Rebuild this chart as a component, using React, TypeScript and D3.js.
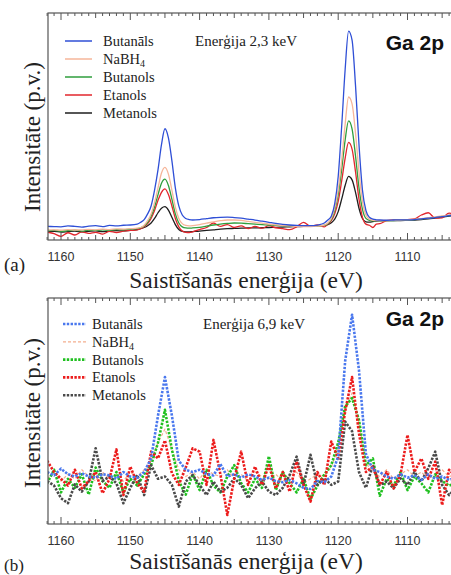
import React from 'react';
import * as d3 from 'd3';

const W = 451;
const H = 575;

const tickLabels = [1160, 1150, 1140, 1130, 1120, 1110];
const seriesNames = ['Butanāls', 'NaBH4', 'Butanols', 'Etanols', 'Metanols'];

// Panel (a) energies (eV)
const energiesA = [
  1162, 1161, 1160, 1159, 1158, 1157, 1156, 1155, 1154, 1153, 1152, 1151, 1150, 1149,
  1148.5, 1148, 1147.5, 1147, 1146.5, 1146, 1145.5, 1145, 1144.5, 1144, 1143.5, 1143, 1142.5, 1142, 1141.5,
  1141, 1140, 1139, 1138, 1137, 1136, 1135, 1134, 1133, 1132, 1131, 1130, 1129, 1128, 1127, 1126, 1125, 1124, 1123, 1122,
  1121.5, 1121, 1120.5, 1120, 1119.5, 1119, 1118.5, 1118, 1117.5, 1117, 1116.5, 1116, 1115.5, 1115, 1114.5,
  1114, 1113, 1112, 1111, 1110, 1109, 1108, 1107, 1106, 1105, 1104, 1103,
];

const butanalsA = [
  6.0, 5.9, 5.8, 6.2, 6.0, 5.7, 6.1, 6.3, 5.9, 6.4, 6.2, 6.5, 6.6, 7.0,
  7.8, 9.0, 11.5, 15, 22, 31, 42, 49, 45, 35, 23, 15, 11, 9.5, 9.0,
  8.8, 9.0, 9.4, 9.8, 10.0, 10.1, 9.9, 9.6, 9.2, 8.8, 8.3, 7.8, 7.3, 6.9, 6.6, 6.4, 6.3, 6.3, 6.6, 7.5,
  8.8, 10.5, 16, 28, 50, 75, 92, 88, 68, 42, 22, 13, 10, 9.2, 8.9,
  8.8, 8.7, 8.8, 8.9, 8.9, 9.0, 9.3, 9.6, 9.9, 10.3, 10.7, 11.0,
];
const nabh4A = [
  4.4, 4.5, 4.3, 4.6, 4.4, 4.5, 4.7, 4.5, 4.8, 4.6, 4.9, 4.8, 5.0, 5.2,
  5.5, 6.5, 8.5, 11.5, 16.5, 23, 29.5, 32, 29, 22, 14.5, 9.5, 7.2, 6.4, 6.2,
  6.3, 6.8, 7.4, 8.0, 8.5, 8.8, 8.8, 8.6, 8.2, 7.8, 7.4, 7.0, 6.7, 6.4, 6.2, 6.0, 5.9, 5.9, 6.1, 6.6,
  7.5, 9.5, 14, 22, 35, 51, 63, 60, 47, 30, 17, 11, 9.2, 8.7, 8.6,
  8.6, 8.6, 8.7, 8.8, 8.9, 9.1, 9.4, 9.8, 10.2, 10.6, 11.0, 11.3,
];
const butanolsA = [
  4.0, 4.2, 3.8, 4.1, 4.3, 3.9, 4.4, 4.2, 4.5, 4.3, 4.6, 4.5, 4.8, 5.0,
  5.4, 6.2, 7.8, 10.5, 14.5, 20, 25, 26.8, 24, 18, 11.5, 7.5, 5.8, 5.3, 5.2,
  5.3, 5.6, 6.1, 6.6, 7.0, 7.3, 7.5, 7.4, 7.2, 7.0, 6.8, 6.6, 6.4, 6.3, 6.2, 6.1, 6.0, 6.0, 6.1, 6.4,
  7.2, 9, 13, 20, 31, 44, 52.5, 49, 37, 23, 13.5, 9.5, 8.6, 8.4, 8.5,
  8.5, 8.5, 8.6, 8.7, 8.8, 9.0, 9.3, 9.6, 10.0, 10.4, 10.8, 11.2,
];
const etanolsA = [
  3.5, 2.8, 1.6, 3.2, 2.2, 3.6, 2.9, 3.4, 2.6, 3.8, 3.3, 3.9, 4.2, 4.5,
  5.0, 5.8, 7.2, 9.5, 13, 17.5, 21, 22.5, 20, 15, 9.5, 5.8, 4.0, 3.4, 3.3,
  3.6, 4.6, 5.5, 7.5, 6.0, 6.8, 5.5, 6.2, 5.0, 6.0, 5.2, 6.3, 5.4, 5.0, 4.6, 5.8, 7.8, 6.0, 6.6, 5.8,
  7.0, 8.5, 11.5, 17, 26, 36, 43, 40, 30, 18, 10, 7, 6.5, 5.5, 7.0,
  7.2, 8.5, 8.8, 8.7, 9.0, 9.3, 11.0, 12.0, 9.6, 9.8, 11.8, 11.2,
];
const metanolsA = [
  3.6, 3.8, 3.5, 3.7, 3.9, 3.6, 3.8, 4.0, 3.7, 3.9, 4.1, 4.0, 4.3, 4.6,
  5.0, 5.5, 6.3, 7.5, 9.5, 12, 14, 14.7, 13.2, 10, 6.8, 4.6, 3.8, 3.6, 3.6,
  3.7, 3.9, 4.2, 4.5, 4.8, 5.0, 5.1, 5.2, 5.3, 5.3, 5.4, 5.5, 5.6, 5.7, 5.8, 5.9, 6.0, 6.1, 6.2, 6.4,
  6.8, 7.6, 9.2, 12.5, 18, 24, 28, 26.5, 21, 14, 9.5, 8.0, 7.9, 8.1, 8.3,
  8.4, 8.5, 8.6, 8.6, 8.7, 8.8, 9.0, 9.3, 9.7, 10.1, 10.5, 10.9,
];

// Panel (b) energies (eV)
const energiesB = [
  1162, 1161, 1160, 1159, 1158, 1157, 1156, 1155, 1154, 1153, 1152, 1151, 1150, 1149, 1148, 1147,
  1146, 1145, 1144, 1143, 1142, 1141, 1140, 1139, 1138, 1137, 1136, 1135, 1134, 1133, 1132, 1131,
  1130, 1129, 1128, 1127, 1126, 1125, 1124, 1123, 1122, 1121, 1120, 1119, 1118, 1117, 1116, 1115,
  1114, 1113, 1112, 1111, 1110, 1109, 1108, 1107, 1106, 1105, 1104, 1103,
];
const butanalsB = [
  23, 21.5, 24.5, 22, 21, 22.5, 21, 20.5, 22, 21.5, 20, 23, 21, 20.5, 23, 29,
  48, 65, 48, 28, 24, 23, 24, 22, 21.5, 26.5, 21, 22, 20.5, 22, 21, 19.5,
  20.5, 19, 18.5, 19.5, 18, 16, 15.5, 19, 18.5, 21, 30, 72, 92.6, 68, 31, 24,
  23, 21, 20, 22, 20.5, 21.5, 19.5, 22, 20, 21, 19.5, 20.5,
];
const nabh4B = [
  20, 23, 19, 22, 20, 24, 21, 19, 23, 20, 22, 19, 23, 21, 24, 28,
  36, 42, 33, 24, 21, 23, 20, 24, 22, 21, 24, 20, 22, 19, 23, 21,
  20, 22, 19, 21, 23, 18, 20, 22, 21, 25, 34, 50, 58, 45, 27, 23,
  21, 24, 20, 22, 24, 21, 23, 20, 22, 24, 21, 22,
];
const butanolsB = [
  18, 24, 14, 20, 16, 22, 13, 25, 19, 16, 23, 14, 20, 17, 22, 26,
  36, 50.5, 33, 19, 13, 22, 15, 24, 17, 14, 21, 26, 18, 14, 20, 16,
  30, 15, 23, 18, 14, 20, 11, 17, 22, 26, 36, 52, 55.7, 46, 26, 29,
  12.5, 20, 17, 23, 15, 21, 18, 14, 22, 19, 17, 18,
];
const etanolsB = [
  28, 23, 20, 17, 24, 15.8, 19, 23, 13.6, 20, 33, 12.8, 25.4, 18, 14.3, 32,
  29, 37, 22.5, 17.3, 25, 33.5, 32, 17.3, 37.2, 22, 4, 20, 32, 17.3, 25.4, 17.3,
  26, 15.8, 23, 14.3, 27.6, 17.3, 9.9, 23, 17.3, 36.5, 29, 49.8, 65, 40, 23, 25.4,
  17.3, 23, 15.8, 22, 39.4, 23, 29, 20, 27.6, 8.4, 24, 21,
];
const metanolsB = [
  19, 17, 11.4, 9.2, 17.5, 14.3, 18.8, 33.5, 19, 21, 18, 9.2, 16, 21.7, 12.8, 26,
  20, 21, 17.3, 7.7, 18.8, 21.7, 17.3, 12.8, 18.8, 14.3, 16, 20.2, 17.3, 11.4, 15.8, 18.8,
  14.3, 12.8, 16, 21.7, 29.8, 17.3, 30.6, 17.3, 20.2, 17.3, 18.8, 45.3, 41, 23, 16, 26,
  17.3, 18.8, 15.8, 20.2, 17.3, 23, 18.8, 24.7, 32, 17.3, 12.8, 16,
];

const colorsA = ['#2f4fd6', '#f6b69a', '#2f9e3c', '#e2262c', '#1e1e1e'];
const colorsB = ['#4a78ee', '#f4ae8e', '#1fc01f', '#ec1c1c', '#4a4a4a'];

const PLOT_LEFT = 48;
const xScale = d3.scaleLinear().domain([1160, 1110]).range([61, 407.5]);

type PanelProps = {
  id: string;
  top: number;
  bottom: number;
  energies: number[];
  series: number[][];
  colors: string[];
  dotted: boolean;
  energyText: string;
  energyX: number;
  legendX1: number;
  legendX2: number;
  legendTextX: number;
  legendY0: number;
  legendDy: number;
  gaY: number;
  titleY: number;
  ylabelY: number;
  tag: string;
  tagY: number;
  tagSize: number;
};

function Panel(p: PanelProps) {
  const y = d3.scaleLinear().domain([0, 100]).range([p.bottom, p.top]);
  const ticks = d3.range(1103, 1163);
  const drawOrder = p.dotted ? [1, 2, 4, 3, 0] : [4, 3, 2, 1, 0];
  const lineFor = (vals: number[]) =>
    d3
      .line<number>()
      .x((_, i) => xScale(p.energies[i]))
      .y((d) => y(d))
      .curve(p.dotted ? d3.curveLinear : d3.curveMonotoneX)(vals) || '';
  const dash = (i: number) => (p.dotted ? (i === 1 ? '3 2' : '2.4 1.4') : undefined);
  const sw = (i: number) => (p.dotted ? (i === 1 ? 1.2 : 2.6) : 1.3);
  return (
    <g>
      <defs>
        <clipPath id={`clip-${p.id}`}>
          <rect x={PLOT_LEFT} y={p.top} width={W - PLOT_LEFT + 10} height={p.bottom - p.top} />
        </clipPath>
      </defs>
      <g clipPath={`url(#clip-${p.id})`}>
        {drawOrder.map((i) => (
          <path
            key={i}
            d={lineFor(p.series[i])}
            fill="none"
            stroke={p.colors[i]}
            strokeWidth={sw(i)}
            strokeDasharray={dash(i)}
            strokeLinejoin="round"
          />
        ))}
      </g>
      <rect
        x={PLOT_LEFT}
        y={p.top}
        width={W - PLOT_LEFT + 20}
        height={p.bottom - p.top}
        fill="none"
        stroke="#555"
        strokeWidth={1.2}
      />
      {ticks.map((e) => {
        const len = e % 10 === 0 ? 7 : e % 5 === 0 ? 5 : 3;
        const x = xScale(e);
        return (
          <g key={e} stroke="#555" strokeWidth={1}>
            <line x1={x} x2={x} y1={p.bottom} y2={p.bottom - len} />
            <line x1={x} x2={x} y1={p.top} y2={p.top + len} />
          </g>
        );
      })}
      {tickLabels.map((t) => (
        <text
          key={t}
          x={xScale(t)}
          y={p.bottom + 21}
          textAnchor="middle"
          fontFamily="'Liberation Sans', Arial, sans-serif"
          fontSize={12.5}
          fill="#333"
        >
          {t}
        </text>
      ))}
      <text
        x={246}
        y={p.titleY}
        textAnchor="middle"
        fontFamily="'Liberation Serif', 'Times New Roman', serif"
        fontSize={23.5}
        fill="#222"
      >
        Saistīšanās enerģija (eV)
      </text>
      <text
        transform={`translate(40,${p.ylabelY}) rotate(-90)`}
        textAnchor="middle"
        fontFamily="'Liberation Serif', 'Times New Roman', serif"
        fontSize={23}
        fill="#222"
      >
        Intensitāte (p.v.)
      </text>
      <text
        x={4}
        y={p.tagY}
        fontFamily="'Liberation Serif', 'Times New Roman', serif"
        fontSize={p.tagSize}
        fill="#222"
      >
        {p.tag}
      </text>
      <text
        x={444}
        y={p.gaY}
        textAnchor="end"
        fontFamily="'Liberation Sans', Arial, sans-serif"
        fontWeight="bold"
        fontSize={21}
        fill="#111"
      >
        Ga 2p
      </text>
      <text
        x={p.energyX}
        y={p.legendY0 + 5}
        fontFamily="'Liberation Serif', 'Times New Roman', serif"
        fontSize={15}
        fill="#222"
      >
        Enerģija {p.energyText} keV
      </text>
      {seriesNames.map((name, i) => {
        const ly = p.legendY0 + i * p.legendDy;
        return (
          <g key={name}>
            <line
              x1={p.legendX1}
              x2={p.legendX2}
              y1={ly}
              y2={ly}
              stroke={p.colors[i]}
              strokeWidth={p.dotted ? (i === 1 ? 1.2 : 2.6) : 1.5}
              strokeDasharray={dash(i)}
            />
            <text
              x={p.legendTextX}
              y={ly + 5}
              fontFamily="'Liberation Serif', 'Times New Roman', serif"
              fontSize={14.5}
              fill="#222"
            >
              {name === 'NaBH4' ? (
                <>
                  NaBH
                  <tspan fontSize={10} dy={3}>
                    4
                  </tspan>
                </>
              ) : (
                name
              )}
            </text>
          </g>
        );
      })}
    </g>
  );
}

export default function App() {
  return (
    <svg
      width={W}
      height={H}
      viewBox={`0 0 ${W} ${H}`}
      style={{ position: 'absolute', left: 0, top: 0, display: 'block', background: '#fff' }}
    >
      <rect x={0} y={0} width={W} height={H} fill="#fff" />
      <Panel
        id="a"
        top={13}
        bottom={240}
        energies={energiesA}
        series={[butanalsA, nabh4A, butanolsA, etanolsA, metanolsA]}
        colors={colorsA}
        dotted={false}
        energyText="2,3"
        energyX={195}
        legendX1={65}
        legendX2={92}
        legendTextX={103}
        legendY0={41}
        legendDy={18}
        gaY={50}
        titleY={288}
        ylabelY={137}
        tag="(a)"
        tagY={271}
        tagSize={19}
      />
      <Panel
        id="b"
        top={298}
        bottom={524}
        energies={energiesB}
        series={[butanalsB, nabh4B, butanolsB, etanolsB, metanolsB]}
        colors={colorsB}
        dotted={true}
        energyText="6,9"
        energyX={203}
        legendX1={63}
        legendX2={86}
        legendTextX={92}
        legendY0={324}
        legendDy={17.8}
        gaY={326}
        titleY={569}
        ylabelY={413}
        tag="(b)"
        tagY={571}
        tagSize={17}
      />
    </svg>
  );
}
